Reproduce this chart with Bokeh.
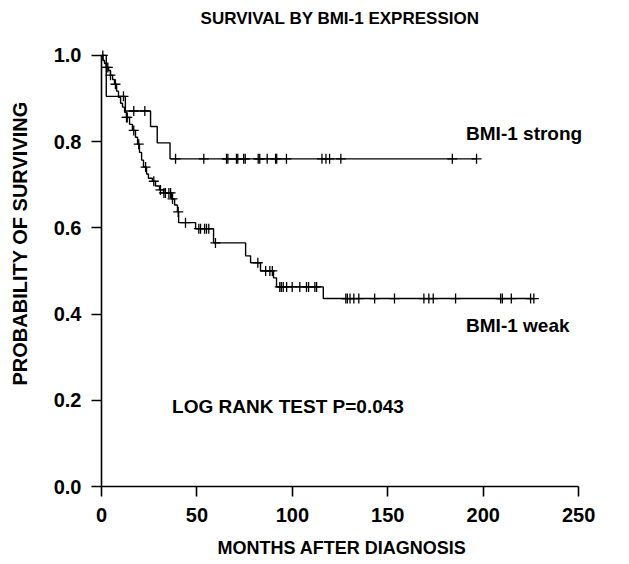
import numpy as np
from bokeh.plotting import figure
from bokeh.models import Range1d, Label, NumeralTickFormatter, FixedTicker
from bokeh.embed import file_html
from bokeh.resources import INLINE

# ---- data ----
strong_event_t = [0, 2.5, 12.5, 25.7, 29.2, 35.9]
strong_surv = [1.0, 0.905, 0.871, 0.835, 0.797, 0.760]
strong_end = 196.5
strong_censor_t = [11.5, 16.9, 22.7, 38.8, 53.6, 65.5, 66.2, 70.7, 71.4, 74.5, 75.3,
                   82.1, 82.9, 86.8, 91.2, 91.8, 96.9, 115.5, 117.6, 119.5, 125.4,
                   183.8, 196.5]

weak_event_t = [0, 0.8, 1.6, 2.6, 3.7, 4.7, 5.8, 6.8, 7.9, 8.9, 10.0, 11.0, 12.1, 13.1,
                14.7, 16.2, 17.8, 18.9, 19.9, 21.0, 22.0, 23.6, 24.6, 26.7, 28.3, 30.4,
                32.5, 36.7, 38.3, 39.8, 40.4, 49.3, 58.7, 75.5, 78.1, 83.3, 90.1, 91.7,
                116.2]
weak_surv = [1.0, 0.988, 0.981, 0.972, 0.965, 0.954, 0.944, 0.933, 0.917, 0.903, 0.889,
             0.880, 0.868, 0.856, 0.840, 0.826, 0.810, 0.794, 0.775, 0.757, 0.741, 0.725,
             0.715, 0.708, 0.697, 0.688, 0.681, 0.667, 0.653, 0.637, 0.612, 0.598, 0.565,
             0.535, 0.519, 0.500, 0.484, 0.463, 0.436]
weak_end = 226.5
weak_censor_t = [0.7, 2.6, 3.3, 4.7, 7.3, 13.1, 13.5, 16.9, 19.5, 23.1, 27.4, 30.9, 32.7,
                 33.5, 35.3, 36.2, 37.2, 40.2, 44.0, 51.0, 51.9, 54.0, 55.0, 56.2, 59.7,
                 81.9, 86.0, 88.2, 89.5, 93.4, 94.2, 95.2, 97.0, 99.9, 103.9, 107.4, 108.5,
                 111.8, 112.7, 128.0, 128.8, 130.2, 132.2, 134.8, 143.1, 153.5, 168.9,
                 171.5, 173.8, 185.5, 209.1, 210.0, 214.7, 224.8, 226.5]

x_ticks = [0, 50, 100, 150, 200, 250]
y_ticks = [0.0, 0.2, 0.4, 0.6, 0.8, 1.0]

title_text = "SURVIVAL BY BMI-1 EXPRESSION"
FONT = "Liberation Sans"

# the plotting area reaches the top of the canvas so that the title can be drawn
# inside it; the y axis itself is bounded to 0..1
p = figure(width=613, height=560, output_backend="svg", toolbar_location=None,
           title=None,
           x_range=Range1d(0, 252), y_range=Range1d(0, 1.1273),
           min_border_left=101, min_border_right=31, min_border_top=0,
           min_border_bottom=73)
p.outline_line_color = None
p.xgrid.visible = False
p.ygrid.visible = False


def km(event_t, surv, end, censor_t, color="black"):
    xs = list(event_t) + [end]
    ys = list(surv) + [surv[-1]]
    p.step(xs, ys, mode="after", line_color=color, line_width=1.4)
    idx = np.searchsorted(np.array(event_t), np.array(censor_t), side="right") - 1
    cy = np.array(surv)[idx]
    p.scatter(censor_t, cy, marker="cross", size=10, line_color=color, line_width=1.3)


km(strong_event_t, strong_surv, strong_end, strong_censor_t)
km(weak_event_t, weak_surv, weak_end, weak_censor_t)

for ax, ticks in ((p.xaxis, x_ticks), (p.yaxis, y_ticks)):
    ax.ticker = FixedTicker(ticks=ticks)
    ax.minor_tick_line_color = None
    ax.major_tick_in = 0
    ax.major_tick_out = 10
    ax.axis_line_width = 1.6
    ax.axis_line_color = "black"
    ax.major_tick_line_width = 1.6
    ax.major_tick_line_color = "black"
    ax.major_label_text_font = FONT
    ax.major_label_text_font_style = "bold"
    ax.major_label_text_font_size = "20px"
    ax.major_label_text_color = "black"
    ax.axis_label_text_font = FONT
    ax.axis_label_text_font_style = "bold"
    ax.axis_label_text_color = "black"

p.xaxis.axis_label_text_font_size = "18px"
p.yaxis.axis_label_text_font_size = "20px"
p.xaxis.bounds = (0, 250)
p.yaxis.bounds = (0, 1)
p.yaxis.formatter = NumeralTickFormatter(format="0.0")
p.xaxis.axis_label = "MONTHS AFTER DIAGNOSIS"
p.yaxis.axis_label = "PROBABILITY OF SURVIVING"
p.xaxis.major_label_standoff = 11
p.yaxis.major_label_standoff = 10
p.xaxis.axis_label_standoff = 13
p.yaxis.axis_label_standoff = 20

# title drawn as a label centred above the curves
p.add_layout(Label(x=125, y=1.0856, text=title_text, text_font=FONT,
                   text_font_style="bold", text_font_size="17px", text_color="black",
                   text_baseline="middle", text_align="center"))

for txt, x, y in (("BMI-1 strong", 191, 0.819), ("BMI-1 weak", 191, 0.373),
                  ("LOG RANK TEST P=0.043", 37, 0.185)):
    p.add_layout(Label(x=x, y=y, text=txt, text_font=FONT, text_font_style="bold",
                       text_font_size="19px", text_color="black",
                       text_baseline="middle", text_align="left"))

open("out.html", "w").write(file_html(p, INLINE))
